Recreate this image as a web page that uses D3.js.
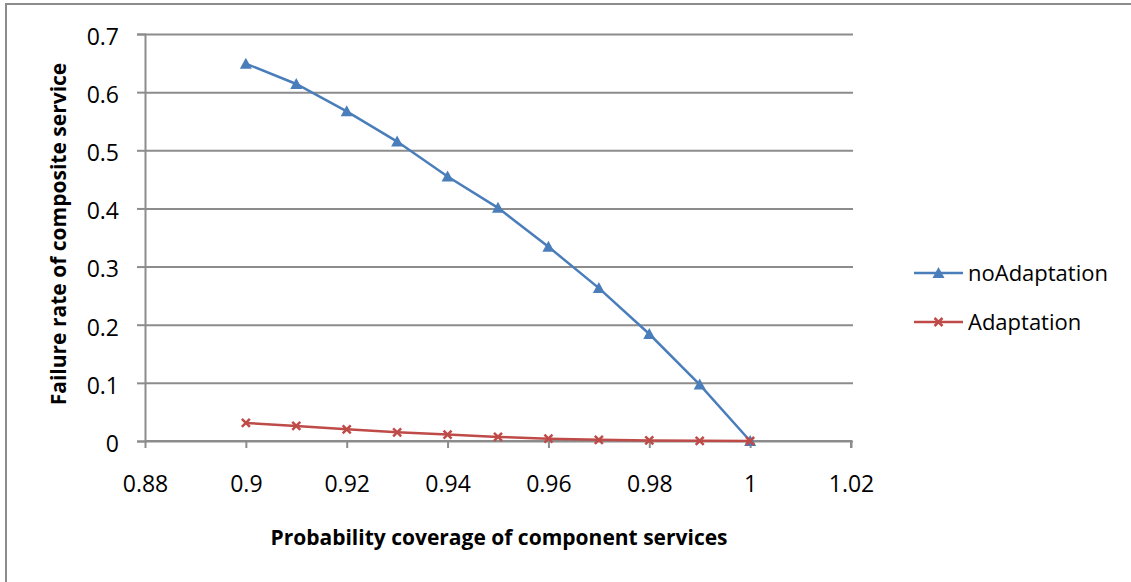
<!DOCTYPE html>
<html>
<head>
<meta charset="utf-8">
<script src="https://cdn.jsdelivr.net/npm/d3@7"></script>
<style>
  html, body { margin: 0; padding: 0; background: #fff; }
  svg { display: block; font-family: "Open Sans", sans-serif; }
</style>
</head>
<body>
<svg id="chart" width="1131" height="582"></svg>
<script>
// Probability coverage of each component service (x values)
const coverage = [0.90, 0.91, 0.92, 0.93, 0.94, 0.95, 0.96, 0.97, 0.98, 0.99, 1.00];
// Failure rate of the composite service without adaptation
const noAdaptation = [0.649, 0.614, 0.567, 0.515, 0.455, 0.401, 0.334, 0.263, 0.184, 0.097, 0.0];
// Failure rate of the composite service with adaptation
const adaptation = [0.031, 0.026, 0.020, 0.015, 0.011, 0.007, 0.004, 0.002, 0.001, 0.0003, 0.0];

const xTicks = [0.88, 0.90, 0.92, 0.94, 0.96, 0.98, 1.00, 1.02];
const yTicks = [0, 0.1, 0.2, 0.3, 0.4, 0.5, 0.6, 0.7];
const seriesNames = ["noAdaptation", "Adaptation"];

const svg = d3.select("#chart");
const W = 1131, H = 582;

// outer chart frame (left and top edges visible)
svg.append("rect")
  .attr("x", 6).attr("y", 4)
  .attr("width", W + 10).attr("height", H + 10)
  .attr("fill", "none").attr("stroke", "#8c8c8c").attr("stroke-width", 2);

const x = d3.scaleLinear().domain([0.88, 1.02]).range([145, 851]);
const y = d3.scaleLinear().domain([0, 0.7]).range([441, 34]);

const gridColor = "#8c8c8c";
const tickFont = "23px";

// horizontal gridlines, extended left as tick marks
const yAxis = d3.axisLeft(y).tickValues(yTicks).tickSize(8)
  .tickFormat(d => d3.format("")(+d.toFixed(2)));
const gy = svg.append("g").attr("transform", `translate(${x.range()[0]},0)`).call(yAxis);
gy.select(".domain").attr("stroke", gridColor).attr("stroke-width", 2);
gy.selectAll(".tick line").attr("stroke", gridColor).attr("stroke-width", 2);
gy.selectAll(".tick").append("line")
  .attr("x1", 0).attr("x2", x.range()[1] - x.range()[0] + 2)
  .attr("stroke", gridColor).attr("stroke-width", 2);
gy.selectAll(".tick text")
  .attr("x", -26).attr("dy", "0.45em")
  .attr("fill", "#000").style("font-size", tickFont).style("font-family", "'Open Sans', sans-serif");

// x axis along zero
const xAxis = d3.axisBottom(x).tickValues(xTicks).tickSize(7)
  .tickFormat(d => d3.format("")(+d.toFixed(2)));
const gx = svg.append("g").attr("transform", `translate(0,${y(0)})`).call(xAxis);
gx.select(".domain").attr("stroke", gridColor).attr("stroke-width", 2).attr("d", `M${x.range()[0]},0H${x.range()[1]}V7`);
gx.selectAll(".tick line").attr("stroke", gridColor).attr("stroke-width", 2);
gx.selectAll(".tick text")
  .attr("y", 35).attr("dy", "0.71em")
  .attr("fill", "#000").style("font-size", tickFont).style("font-family", "'Open Sans', sans-serif");

// series
const blue = "#4a7ebb", red = "#be4b48";
const line = d3.line().x(d => x(d[0])).y(d => y(d[1]));

function triangle(g, cx, cy) {
  g.append("path")
    .attr("d", `M${cx},${cy - 6}L${cx + 6},${cy + 5}L${cx - 6},${cy + 5}Z`)
    .attr("fill", blue);
}
function cross(g, cx, cy) {
  g.append("path")
    .attr("d", `M${cx - 4},${cy - 4}L${cx + 4},${cy + 4}M${cx + 4},${cy - 4}L${cx - 4},${cy + 4}`)
    .attr("stroke", red).attr("stroke-width", 2.5).attr("fill", "none");
}

const noAdaptPts = coverage.map((c, i) => [c, noAdaptation[i]]);
const adaptPts = coverage.map((c, i) => [c, adaptation[i]]);

const gBlue = svg.append("g");
gBlue.append("path").attr("d", line(noAdaptPts))
  .attr("fill", "none").attr("stroke", blue).attr("stroke-width", 2.5);
noAdaptPts.forEach(p => triangle(gBlue, x(p[0]), y(p[1])));

const gRed = svg.append("g");
gRed.append("path").attr("d", line(adaptPts))
  .attr("fill", "none").attr("stroke", red).attr("stroke-width", 2.5);
adaptPts.forEach(p => cross(gRed, x(p[0]), y(p[1])));

// legend
const legend = svg.append("g");
const legendRows = [
  { name: seriesNames[0], color: blue, marker: triangle, cy: 273 },
  { name: seriesNames[1], color: red, marker: cross, cy: 322 }
];
legendRows.forEach(r => {
  legend.append("line").attr("x1", 914).attr("x2", 963).attr("y1", r.cy).attr("y2", r.cy)
    .attr("stroke", r.color).attr("stroke-width", 2.5);
  r.marker(legend, 938.5, r.cy);
  legend.append("text").attr("x", 968).attr("y", r.cy).attr("dy", "0.36em")
    .style("font-size", "22px").attr("fill", "#000").text(r.name);
});

// axis titles
svg.append("text")
  .attr("x", 499).attr("y", 545)
  .attr("text-anchor", "middle")
  .style("font-size", "21px").style("font-weight", "bold")
  .text("Probability coverage of component services");

svg.append("text")
  .attr("transform", "translate(66,234) rotate(-90)")
  .attr("text-anchor", "middle")
  .style("font-size", "21px").style("font-weight", "bold")
  .text("Failure rate of composite service");
</script>
</body>
</html>
